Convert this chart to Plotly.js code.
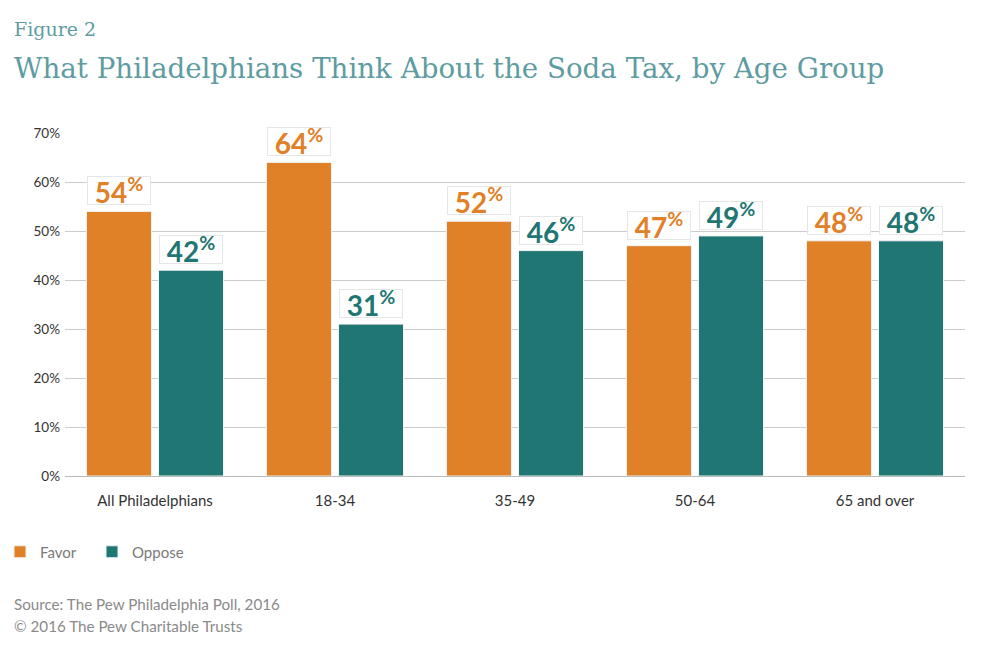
<!DOCTYPE html>
<html><head><meta charset="utf-8">
<script src="https://cdn.plot.ly/plotly-3.0.1.min.js"></script>
<style>html,body{margin:0;padding:0;background:#fff}</style>
</head><body><div id="chart" style="width:990px;height:651px"></div>
<script>
const categories = ["All Philadelphians", "18-34", "35-49", "50-64", "65 and over"];
const favor = [54, 64, 52, 47, 48];
const oppose = [42, 31, 46, 49, 48];
const yTickVals = [0, 10, 20, 30, 40, 50, 60, 70];
const yTickText = ["0%", "10%", "20%", "30%", "40%", "50%", "60%", "70%"];

const ORANGE = "#E08027", TEAL = "#1F7673", TITLE = "#5E9CA2";
const L = 65, T = 133, PW = 900, PH = 343;
const px = x => (x - L) / PW, py = y => (T + PH - y) / PH;

const traces = [
  {type: "bar", name: "Favor", x: categories, y: favor, marker: {color: ORANGE, line: {color: "#f3f3f3", width: 1}}, hoverinfo: "skip"},
  {type: "bar", name: "Oppose", x: categories, y: oppose, marker: {color: TEAL, line: {color: "#f3f3f3", width: 1}}, hoverinfo: "skip"}
];

const ann = [];
function labels(vals, color, shift) {
  vals.forEach((v, i) => ann.push({
    x: categories[i], y: v, xref: "x", yref: "y", xshift: shift, yshift: 6,
    yanchor: "bottom", showarrow: false,
    text: "<b>" + v + "<sup>%</sup></b>",
    font: {family: "Lato, 'Open Sans', sans-serif", size: 28, weight: 900, color: color},
    bgcolor: "#ffffff", bordercolor: "#e6e6e6", borderwidth: 1, width: 62, height: 27, borderpad: 0
  }));
}
labels(favor, ORANGE, -36);
labels(oppose, TEAL, 36);

ann.push({xref: "paper", yref: "paper", x: px(12), y: py(29), xanchor: "left", yanchor: "middle", showarrow: false,
  text: "Figure 2", font: {family: "'DejaVu Serif', serif", size: 19, color: TITLE}});
ann.push({xref: "paper", yref: "paper", x: px(12), y: py(68), xanchor: "left", yanchor: "middle", showarrow: false,
  text: "What Philadelphians Think About the Soda Tax, by Age Group", font: {family: "'DejaVu Serif', serif", size: 27.7, color: TITLE}});
ann.push({xref: "paper", yref: "paper", x: px(12), y: py(604), xanchor: "left", yanchor: "middle", showarrow: false,
  text: "Source: The Pew Philadelphia Poll, 2016", font: {family: "Lato, sans-serif", size: 15.2, color: "#8a8a8a"}});
ann.push({xref: "paper", yref: "paper", x: px(12), y: py(626), xanchor: "left", yanchor: "middle", showarrow: false,
  text: "© 2016 The Pew Charitable Trusts", font: {family: "Lato, sans-serif", size: 15.2, color: "#8a8a8a"}});

const layout = {
  width: 990, height: 651,
  margin: {l: L, r: 25, t: T, b: 175, autoexpand: false},
  paper_bgcolor: "#fff", plot_bgcolor: "#fff",
  barmode: "group", bargap: 0.2, bargroupgap: 0.097,
  showlegend: true,
  legend: {orientation: "h", x: px(0), y: py(552), xanchor: "left", yanchor: "middle",
    font: {family: "Lato, sans-serif", size: 15, color: "#7a7a7a"}, entrywidth: 47, entrywidthmode: "pixels", traceorder: "normal"},
  xaxis: {tickfont: {family: "Lato, sans-serif", size: 15, color: "#333"}, showline: false, ticks: "", ticklabelstandoff: 14, fixedrange: true},
  yaxis: {range: [0, 70], tickvals: yTickVals, ticktext: yTickText, showgrid: true, gridcolor: "#cccccc", gridwidth: 1,
    zeroline: true, zerolinecolor: "#bbbbbb", zerolinewidth: 1,
    tickfont: {family: "Lato, sans-serif", size: 13.5, color: "#333"}, ticks: "", ticklabelstandoff: 4},
  annotations: ann
};
Plotly.newPlot("chart", traces, layout, {displayModeBar: false, staticPlot: true});
</script></body></html>
